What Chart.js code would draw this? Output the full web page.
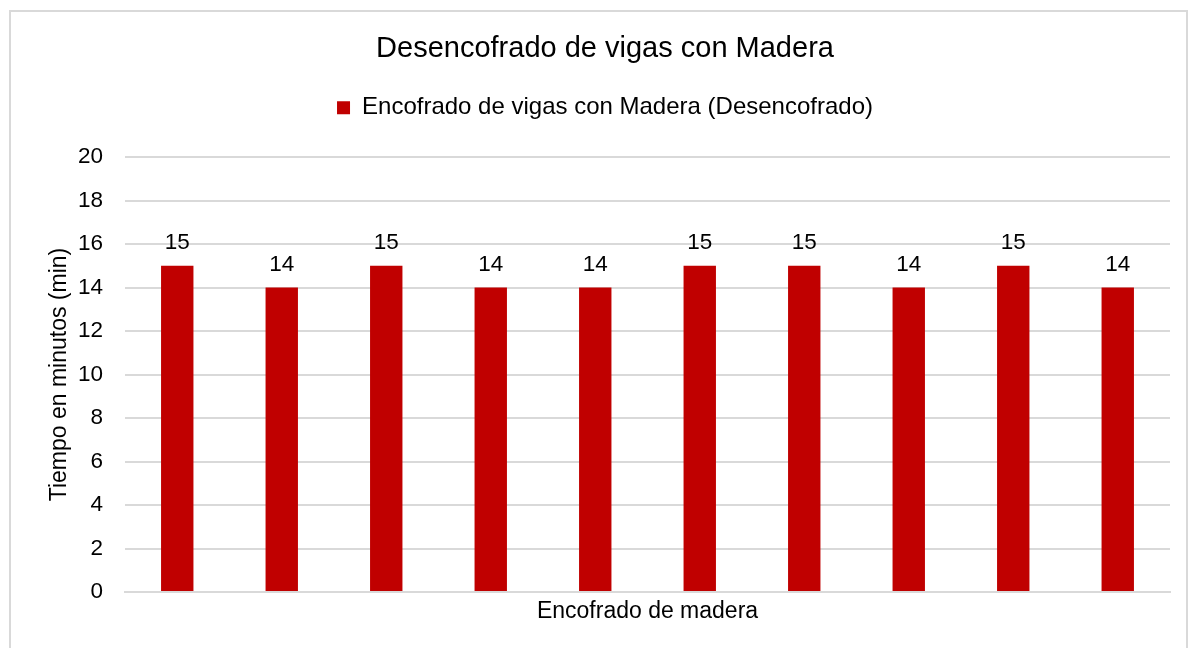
<!DOCTYPE html>
<html>
<head>
<meta charset="utf-8">
<script src="https://cdn.jsdelivr.net/npm/chart.js@4"></script>
<style>
  body { margin: 0; background: #fff; }
  #wrap { width: 1189px; height: 648px; }
</style>
</head>
<body>
<div id="wrap"><canvas id="myChart" width="1189" height="648"></canvas></div>
<script>
var categories = ['1', '2', '3', '4', '5', '6', '7', '8', '9', '10'];
var tiempos = [15, 14, 15, 14, 14, 15, 15, 14, 15, 14];
var serieNombre = 'Encofrado de vigas con Madera (Desencofrado)';

Chart.defaults.font.family = '"Liberation Sans", Arial, sans-serif';
Chart.defaults.color = '#000';

// borde exterior gris
var marco = {
  id: 'marco',
  beforeDraw: function(chart) {
    var ctx = chart.ctx;
    ctx.save();
    ctx.fillStyle = '#fff';
    ctx.fillRect(0, 0, chart.width, chart.height);
    ctx.strokeStyle = '#d9d9d9';
    ctx.lineWidth = 2;
    ctx.strokeRect(10, 11, 1177, 650);
    ctx.restore();
  }
};

// etiquetas de valor encima de cada barra
var etiquetas = {
  id: 'etiquetas',
  afterDatasetsDraw: function(chart) {
    var ctx = chart.ctx;
    var meta = chart.getDatasetMeta(0);
    ctx.save();
    ctx.font = '22.5px "Liberation Sans", Arial, sans-serif';
    ctx.fillStyle = '#000';
    ctx.textAlign = 'center';
    ctx.textBaseline = 'middle';
    meta.data.forEach(function(bar, i) {
      ctx.fillText(tiempos[i], bar.x, bar.y - 23);
    });
    ctx.restore();
  }
};

var chart1 = document.getElementById('myChart').getContext('2d');

new Chart(chart1, {
  type: 'bar',
  data: {
    labels: categories,
    datasets: [{
      label: serieNombre,
      backgroundColor: '#C00000',
      borderColor: '#C00000',
      data: tiempos,
      barPercentage: 0.31,
      categoryPercentage: 1
    }]
  },
  options: {
    responsive: false,
    animation: false,
    layout: { padding: { left: 40, right: 19, top: 0, bottom: 0 } },
    plugins: {
      title: {
        display: true,
        text: 'Desencofrado de vigas con Madera',
        font: { size: 29, weight: 'normal' },
        color: '#000',
        padding: { top: 32, bottom: 19 }
      },
      // espacio vacio entre leyenda y grafico
      subtitle: {
        display: true,
        text: ' ',
        weight: 500,
        font: { size: 1 },
        padding: { top: 26, bottom: 0 }
      },
      legend: {
        labels: {
          boxWidth: 13,
          boxHeight: 13,
          font: { size: 24 },
          color: '#000',
          padding: 10
        }
      },
      tooltip: { enabled: false }
    },
    scales: {
      x: {
        grid: { display: false },
        border: { color: '#d9d9d9', width: 2 },
        ticks: { display: false },
        title: {
          display: true,
          text: 'Encofrado de madera',
          font: { size: 23 },
          color: '#000',
          padding: { top: 23, bottom: 23 }
        },
        afterFit: function(s) { s.height = 56; }
      },
      y: {
        min: 0,
        max: 20,
        ticks: { stepSize: 2, font: { size: 22.5 }, color: '#000', padding: 22 },
        grid: { color: '#d9d9d9', lineWidth: 2, drawTicks: false },
        border: { display: false },
        title: {
          display: true,
          text: 'Tiempo en minutos (min)',
          font: { size: 23 },
          color: '#000',
          padding: { top: 6, bottom: 6 }
        },
        afterFit: function(s) { s.width = 85; }
      }
    }
  },
  plugins: [marco, etiquetas]
});
</script>
</body>
</html>
